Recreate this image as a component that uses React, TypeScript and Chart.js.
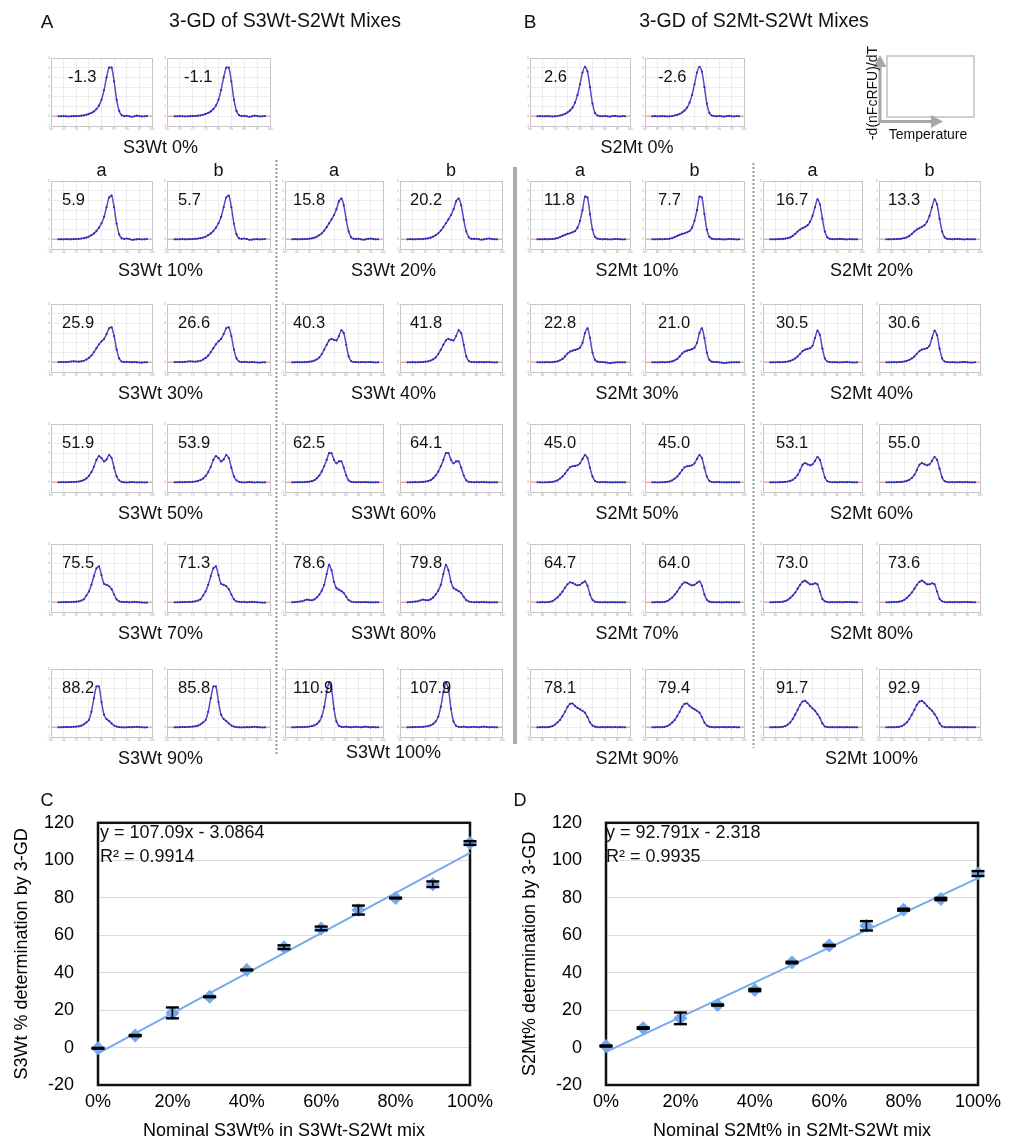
import React, { useEffect, useRef } from 'react';
import { Chart, registerables } from 'chart.js';

Chart.register(...registerables);

const FONT = '"Liberation Sans", Arial, Helvetica, sans-serif';

// ---------------- melt-curve data (-d(nFcRFU)/dT vs temperature) ----------------
const temps = [63, 64, 65, 66, 67, 68, 69, 70, 71, 72, 73, 74, 75, 76, 77, 78, 79, 80, 81, 82, 83, 84, 85, 86, 87, 88, 89, 90, 91, 92, 93, 94, 95, 96, 97, 98];
const tempMin = 60;
const tempMax = 100;

// Panel A: S3Wt-S2Wt mixes (S3Wt 0% .. 100%)
const curveA0 = [0, 0, 0.02, 0, -0.02, 0, 0.01, 0.02, 0.03, 0.06, 0.1, 0.16, 0.24, 0.35, 0.5, 0.75, 1.1, 1.7, 2.7, 4.0, 5.0, 5.0, 3.6, 1.7, 0.55, 0.12, 0.02, 0.05, 0, -0.05, 0, 0.06, 0.03, -0.02, 0, 0.02];
const curveA10 = [0, 0, 0, 0.01, 0, 0, 0.01, 0.03, 0.05, 0.08, 0.12, 0.18, 0.28, 0.42, 0.6, 0.85, 1.2, 1.65, 2.3, 3.3, 4.3, 4.5, 3.3, 1.6, 0.5, 0.1, 0.05, 0.08, 0.03, -0.05, -0.03, 0, 0.02, -0.02, 0, 0.03];
const curveA20 = [0, 0.01, 0, 0, 0.01, 0.02, 0.03, 0.06, 0.1, 0.17, 0.27, 0.42, 0.62, 0.9, 1.25, 1.65, 2.05, 2.5, 3.1, 3.9, 4.2, 3.5, 2.0, 0.8, 0.2, 0.05, 0.04, 0.05, 0, -0.04, 0, 0.05, 0.08, 0.02, 0, 0];
const curveA30 = [0.02, 0.03, 0.02, 0.02, 0.05, 0.08, 0.1, 0.08, 0.06, 0.1, 0.16, 0.28, 0.45, 0.7, 1.05, 1.45, 1.85, 2.15, 2.4, 2.9, 3.5, 3.6, 2.7, 1.3, 0.4, 0.08, 0.02, 0.04, 0.03, 0, 0.02, 0, -0.02, -0.03, 0, 0];
const curveA40 = [0, 0, 0.01, 0, 0, 0.02, 0.03, 0.06, 0.1, 0.18, 0.3, 0.5, 0.85, 1.3, 1.8, 2.25, 2.4, 2.3, 2.25, 2.7, 3.3, 3.0, 1.8, 0.6, 0.12, 0.03, 0.02, 0, 0.01, 0.02, 0, 0.03, 0.02, 0, -0.02, 0];
const curveA50 = [0, 0, 0.01, 0, 0.01, 0.02, 0.03, 0.05, 0.08, 0.14, 0.24, 0.4, 0.65, 1.05, 1.6, 2.3, 2.7, 2.5, 2.15, 2.35, 2.8, 2.5, 1.5, 0.6, 0.2, 0.05, 0, -0.02, 0, 0.02, 0, -0.02, 0, 0, -0.02, 0];
const curveA60 = [0, 0, 0, 0.01, 0, 0.02, 0.04, 0.07, 0.12, 0.22, 0.42, 0.7, 1.1, 1.65, 2.3, 3.0, 3.0, 2.3, 1.95, 2.15, 2.15, 1.5, 0.7, 0.2, 0.05, 0.02, 0, 0.01, 0, 0.02, 0.01, 0, -0.01, 0, 0, 0];
const curveA70 = [0, 0, 0.01, 0.01, 0.02, 0.03, 0.04, 0.06, 0.1, 0.18, 0.3, 0.7, 1.1, 1.8, 2.7, 3.5, 3.7, 2.8, 1.9, 1.8, 1.65, 1.35, 0.8, 0.3, 0.1, 0.05, 0.02, 0.04, 0, 0.02, 0.04, 0.02, 0, -0.02, -0.03, -0.03];
const curveA80 = [0, 0.02, 0.05, 0.08, 0.1, 0.2, 0.28, 0.22, 0.2, 0.3, 0.5, 0.8, 1.2, 1.8, 2.9, 3.85, 3.3, 2.1, 1.45, 1.3, 1.15, 0.95, 0.55, 0.22, 0.08, 0.03, 0, 0.01, 0, 0.02, 0.01, 0, -0.01, 0, 0, 0];
const curveA90 = [0, 0, 0.01, 0.02, 0.02, 0.03, 0.05, 0.07, 0.1, 0.17, 0.3, 0.5, 0.75, 1.6, 3.0, 4.2, 4.2, 2.6, 1.3, 0.85, 0.65, 0.4, 0.18, 0.07, 0.02, 0, -0.02, 0, 0.01, 0, 0.03, 0.05, 0.02, 0, -0.02, 0];
const curveA100 = [0, 0, 0.01, 0.02, 0.02, 0.03, 0.05, 0.08, 0.12, 0.2, 0.35, 0.6, 1.1, 2.1, 3.6, 4.6, 3.9, 1.9, 0.6, 0.15, 0.05, 0.03, 0.06, 0.02, 0, 0.02, 0.05, 0.03, 0, 0.04, 0.06, 0.02, 0, 0.02, 0, 0];
const curvesA = [curveA0, curveA10, curveA20, curveA30, curveA40, curveA50, curveA60, curveA70, curveA80, curveA90, curveA100];

// Panel B: S2Mt-S2Wt mixes (S2Mt 0% .. 100%)
const curveB0 = [0, 0.01, 0, 0, 0.01, 0, -0.02, 0, 0.03, 0.08, 0.15, 0.25, 0.4, 0.6, 0.9, 1.4, 2.2, 3.3, 4.5, 5.1, 4.6, 3.0, 1.3, 0.35, 0.08, 0.02, 0, 0.03, 0, -0.03, 0.02, 0.04, 0, -0.02, 0.02, 0];
const curveB10 = [0, 0, 0, 0.01, 0, 0.02, 0.03, 0.06, 0.12, 0.22, 0.35, 0.45, 0.55, 0.62, 0.72, 0.85, 1.2, 1.9, 3.0, 4.4, 4.3, 2.6, 1.0, 0.25, 0.06, 0.02, 0, 0.02, 0, -0.02, 0, 0.03, 0.02, 0, -0.02, 0];
const curveB20 = [0, 0, 0, 0.01, 0.02, 0.04, 0.07, 0.12, 0.2, 0.35, 0.55, 0.8, 1.0, 1.15, 1.28, 1.45, 1.8, 2.4, 3.3, 4.1, 3.6, 2.1, 0.8, 0.2, 0.05, 0.02, 0, 0.02, 0.04, 0.02, 0, -0.02, 0.02, 0, 0, 0];
const curveB30 = [0, 0, 0, 0, 0.01, 0, 0.02, 0.05, 0.1, 0.2, 0.35, 0.6, 0.9, 1.1, 1.2, 1.27, 1.35, 1.5, 2.0, 3.0, 3.5, 2.5, 1.0, 0.25, 0.06, 0.03, 0.02, 0, -0.03, -0.08, -0.04, -0.02, 0, 0, 0, 0];
const curveB40 = [0, 0, 0, 0.01, 0, 0.02, 0.04, 0.08, 0.15, 0.25, 0.4, 0.6, 0.88, 1.15, 1.3, 1.38, 1.45, 1.7, 2.5, 3.25, 2.8, 1.4, 0.4, 0.08, 0.02, 0, 0.01, 0, -0.02, 0, 0.02, 0.03, 0, -0.02, -0.02, 0];
const curveB50 = [0, 0, -0.02, 0, 0, 0.02, 0.05, 0.1, 0.2, 0.38, 0.6, 0.9, 1.25, 1.55, 1.65, 1.68, 1.75, 1.95, 2.4, 2.8, 2.5, 1.5, 0.6, 0.15, 0.03, 0, 0.02, 0.01, 0, 0, -0.01, 0, 0, 0, 0, 0];
const curveB60 = [0, 0, 0, 0, 0.01, 0.02, 0.04, 0.08, 0.14, 0.25, 0.45, 0.75, 1.25, 1.8, 1.98, 1.85, 1.75, 1.85, 2.2, 2.6, 2.3, 1.4, 0.5, 0.12, 0.03, 0, 0.01, 0, 0.01, 0.02, 0, 0.01, 0.02, 0, 0, 0];
const curveB70 = [0, 0, 0.01, 0, 0.02, 0.05, 0.12, 0.3, 0.5, 0.78, 1.1, 1.5, 1.85, 2.05, 2.0, 1.85, 1.75, 1.8, 2.0, 2.15, 1.7, 0.8, 0.25, 0.06, 0.02, 0, 0, 0.01, -0.01, 0, 0.01, 0, 0, 0, 0, 0];
const curveB80 = [0, 0, 0.01, 0.02, 0.03, 0.06, 0.12, 0.25, 0.45, 0.7, 1.0, 1.4, 1.8, 2.1, 2.22, 2.05, 1.85, 1.85, 1.95, 1.85, 1.1, 0.35, 0.1, 0.03, 0, 0.01, 0, 0.01, 0.02, 0, 0.02, 0.03, 0.02, 0.01, 0, 0];
const curveB90 = [0, 0, 0.01, 0, 0.02, 0.05, 0.12, 0.28, 0.5, 0.75, 1.15, 1.6, 2.1, 2.4, 2.45, 2.2, 2.0, 1.85, 1.7, 1.5, 1.05, 0.5, 0.18, 0.06, 0.02, 0, 0.02, 0, 0.02, 0.01, 0, 0.02, 0, 0.01, 0, 0];
const curveB100 = [0, 0, 0.01, 0, 0.02, 0.05, 0.12, 0.28, 0.5, 0.85, 1.3, 1.8, 2.3, 2.65, 2.72, 2.5, 2.2, 1.95, 1.7, 1.35, 0.95, 0.4, 0.08, 0.02, 0, 0.01, 0, 0, 0.01, 0, 0, 0.01, 0, 0, 0, 0];
const curvesB = [curveB0, curveB10, curveB20, curveB30, curveB40, curveB50, curveB60, curveB70, curveB80, curveB90, curveB100];

const levels = [0, 10, 20, 30, 40, 50, 60, 70, 80, 90, 100];
// 3-GD results written in each panel (replicates a / b)
const s3wtRepA = [-1.3, 5.9, 15.8, 25.9, 40.3, 51.9, 62.5, 75.5, 78.6, 88.2, 110.9];
const s3wtRepB = [-1.1, 5.7, 20.2, 26.6, 41.8, 53.9, 64.1, 71.3, 79.8, 85.8, 107.9];
const s2mtRepA = [2.6, 11.8, 16.7, 22.8, 30.5, 45.0, 53.1, 64.7, 73.0, 78.1, 91.7];
const s2mtRepB = [-2.6, 7.7, 13.3, 21.0, 30.6, 45.0, 55.0, 64.0, 73.6, 79.4, 92.9];

// ---------------- calibration data (C, D) ----------------
const nominalPct = [0, 10, 20, 30, 40, 50, 60, 70, 80, 90, 100];
const s3wtMean = [-0.4, 6.4, 18.5, 27.1, 41.4, 53.6, 63.6, 73.4, 79.8, 87.2, 109.2];
const s3wtErr = [0.2, 0.3, 2.9, 0.2, 0.2, 1.0, 1.0, 2.4, 0.2, 1.5, 1.0];
const s3wtSlope = 107.09;
const s3wtIntercept = -3.0864;
const s3wtR2 = '0.9914';

const s2mtMean = [0.8, 10.4, 15.6, 22.7, 30.7, 45.4, 54.5, 65.0, 73.6, 79.3, 92.9];
const s2mtErr = [0.3, 0.4, 3.1, 0.3, 0.6, 0.4, 0.3, 2.5, 0.5, 0.6, 1.3];
const s2mtSlope = 92.791;
const s2mtIntercept = -2.318;
const s2mtR2 = '0.9935';

// ---------------- layout (styles only) ----------------
const colsA = [{ l: 51, w: 101 }, { l: 167, w: 103 }, { l: 285, w: 98 }, { l: 400, w: 102 }];
const colsB = [{ l: 530, w: 100 }, { l: 645, w: 99 }, { l: 763, w: 99 }, { l: 879, w: 101 }];
const rowTops = [57, 180, 303, 423, 543, 668];
const PANEL_H = 69;
const numOffA = [11, 11, 8, 10];
const numOffB = [14, 13, 13, 9];

const PAD_L = 8, PAD_T = 3, PAD_R = 4, PAD_B = 7;
const EDGE = '#c6c6c6';
const INNER = '#ececec';

type PanelProps = { left: number; top: number; width: number; height: number; curve: number[] };

function MeltPanel({ left, top, width, height, curve }: PanelProps) {
  const ref = useRef<HTMLCanvasElement | null>(null);
  useEffect(() => {
    if (!ref.current) return;
    const pts = temps.map((t, i) => ({ x: t, y: curve[i] }));
    const fitPts = [{ x: tempMin, y: 0 }, ...pts, { x: tempMax, y: 0 }];
    const edgeColor = (lo: number, hi: number) => (c: any) =>
      c.tick && (c.tick.value === lo || c.tick.value === hi) ? EDGE : INNER;
    const chart = new Chart(ref.current, {
      type: 'scatter',
      data: {
        datasets: [
          {
            data: pts, showLine: true, borderColor: '#4747d8', borderWidth: 1.25, tension: 0.25,
            pointRadius: 1.1, pointBackgroundColor: '#2c2cb0', pointBorderWidth: 0, clip: false,
          },
          {
            data: fitPts, showLine: true, borderColor: '#f1a8a8', borderWidth: 1.5, tension: 0.25,
            pointRadius: 0, clip: false,
          },
        ],
      },
      options: {
        responsive: false,
        animation: false,
        events: [],
        layout: { padding: { top: PAD_T, right: PAD_R, left: 0, bottom: 0 } },
        plugins: { legend: { display: false }, tooltip: { enabled: false } },
        scales: {
          x: {
            type: 'linear', min: tempMin, max: tempMax,
            afterFit: (s: any) => { s.height = PAD_B; },
            ticks: { stepSize: 5, font: { size: 3, family: FONT }, color: '#9a9a9a', padding: 1, maxRotation: 0, autoSkip: false },
            grid: { drawTicks: false, color: edgeColor(tempMin, tempMax), lineWidth: 1 },
            border: { color: EDGE },
          },
          y: {
            type: 'linear', min: -1, max: 6,
            afterFit: (s: any) => { s.width = PAD_L; },
            ticks: { stepSize: 1, font: { size: 3, family: FONT }, color: '#9a9a9a', padding: 1, autoSkip: false },
            grid: { drawTicks: false, color: edgeColor(-1, 6), lineWidth: 1 },
            border: { color: EDGE },
          },
        },
      },
    } as any);
    return () => chart.destroy();
  }, [curve]);
  return (
    <canvas
      ref={ref}
      width={width + PAD_L + PAD_R}
      height={height + PAD_T + PAD_B}
      style={{ position: 'absolute', left: left - PAD_L, top: top - PAD_T, display: 'block' }}
    />
  );
}

const framePlugin = {
  id: 'blackFrame',
  beforeDatasetsDraw(chart: any) {
    const { ctx, chartArea } = chart;
    ctx.save();
    ctx.strokeStyle = '#111';
    ctx.lineWidth = 2.5;
    ctx.strokeRect(chartArea.left, chartArea.top, chartArea.right - chartArea.left, chartArea.bottom - chartArea.top);
    ctx.restore();
  },
};

type CalProps = {
  left: number; means: number[]; errs: number[]; slope: number; intercept: number; yTitle: string; xTitle: string;
};

// chart area top = canvas top + (half tick label height + tick padding)
const CAL_TOP = 788, CAL_W = 494, CAL_H = 354;

function CalChart({ left, means, errs, slope, intercept, yTitle, xTitle }: CalProps) {
  const ref = useRef<HTMLCanvasElement | null>(null);
  useEffect(() => {
    if (!ref.current) return;
    const errPts: any[] = [];
    nominalPct.forEach((x, i) => {
      errPts.push({ x, y: means[i] - errs[i] });
      errPts.push({ x, y: means[i] + errs[i] });
      errPts.push({ x, y: null });
    });
    const pts = nominalPct.map((x, i) => ({ x, y: means[i] }));
    const trend = [
      { x: 0, y: intercept },
      { x: 100, y: slope + intercept },
    ];
    const font = { family: FONT, size: 18 };
    const chart = new Chart(ref.current, {
      type: 'scatter',
      data: {
        datasets: [
          {
            data: errPts, showLine: true, spanGaps: false, borderColor: '#000', borderWidth: 1.6,
            pointStyle: 'line', pointRadius: 6.5, pointBorderWidth: 2.4, pointBorderColor: '#000', clip: false,
          },
          {
            data: pts, pointStyle: 'rectRot', pointRadius: 7, pointBackgroundColor: '#71a8ee',
            pointBorderWidth: 0, clip: false,
          },
          {
            data: trend, showLine: true, borderColor: '#74abee', borderWidth: 2, pointRadius: 0, clip: false,
          },
        ],
      },
      options: {
        responsive: false,
        animation: false,
        events: [],
        layout: { padding: { top: 0, right: 35, left: 0, bottom: 0 } },
        plugins: { legend: { display: false }, tooltip: { enabled: false } },
        scales: {
          x: {
            type: 'linear', min: 0, max: 100,
            afterFit: (s: any) => { s.height = 57; },
            ticks: { stepSize: 20, font, color: '#000', padding: 6, maxRotation: 0, callback: (v: any) => `${v}%` },
            grid: { display: false, drawTicks: false },
            border: { display: false },
            title: { display: true, text: xTitle, font, color: '#000', padding: 0 },
          },
          y: {
            type: 'linear', min: -20, max: 120,
            afterFit: (s: any) => { s.width = 87; },
            ticks: { stepSize: 20, font, color: '#000', padding: 24 },
            grid: { drawTicks: false, color: '#dcdcdc', lineWidth: 1 },
            border: { display: false },
            title: { display: true, text: yTitle, font, color: '#000', padding: 0 },
          },
        },
      },
      plugins: [framePlugin],
    } as any);
    return () => chart.destroy();
  }, [left]);
  return (
    <canvas
      ref={ref}
      width={CAL_W}
      height={CAL_H}
      style={{ position: 'absolute', left, top: CAL_TOP, display: 'block' }}
    />
  );
}

type TextProps = { x: number; y: number; text: string; size?: number; align?: 'center' | 'left'; rotate?: boolean };

function Txt({ x, y, text, size = 18, align = 'center', rotate = false }: TextProps) {
  const tf = align === 'center' ? 'translate(-50%,-50%)' : 'translate(0,-50%)';
  return (
    <div
      style={{
        position: 'absolute', left: x, top: y, transform: rotate ? 'translate(-50%,-50%) rotate(-90deg)' : tf,
        fontSize: size, lineHeight: 1, whiteSpace: 'nowrap', color: '#111', fontFamily: FONT,
      }}
    >
      {text}
    </div>
  );
}

function panelGroup(
  group: 'A' | 'B', curves: number[][], repA: number[], repB: number[], name: string,
) {
  const cols = group === 'A' ? colsA : colsB;
  const offs = group === 'A' ? numOffA : numOffB;
  const panels: React.ReactNode[] = [];
  const texts: React.ReactNode[] = [];
  levels.forEach((lv, li) => {
    const row = li === 0 ? 0 : Math.ceil(li / 2);
    const pair = li === 0 ? 0 : li % 2 === 1 ? 0 : 1;
    const c0 = cols[pair * 2];
    const c1 = cols[pair * 2 + 1];
    const top = rowTops[row];
    [c0, c1].forEach((c, k) => {
      panels.push(
        <MeltPanel key={`${group}-${lv}-${k}`} left={c.l} top={top} width={c.w} height={PANEL_H} curve={curves[li]} />,
      );
      const off = group === 'A' && row === 0 ? 17 : offs[pair * 2 + k];
      const val = k === 0 ? repA[li] : repB[li];
      texts.push(
        <Txt key={`${group}-${lv}-${k}-n`} x={c.l + off} y={top + 19} text={val.toFixed(1)} size={16.5} align="left" />,
      );
    });
    const cx = (c0.l + c1.l + c1.w) / 2;
    let ly = top + PANEL_H + 21;
    if (group === 'A' && lv === 100) ly -= 6;
    texts.push(<Txt key={`${group}-${lv}-lab`} x={cx} y={ly} text={`${name} ${lv}%`} size={18} />);
  });
  cols.forEach((c, i) => {
    texts.push(<Txt key={`${group}-h${i}`} x={c.l + c.w / 2} y={170} text={i % 2 === 0 ? 'a' : 'b'} size={18} />);
  });
  return { panels, texts };
}

export default function App() {
  const A = panelGroup('A', curvesA, s3wtRepA, s3wtRepB, 'S3Wt');
  const B = panelGroup('B', curvesB, s2mtRepA, s2mtRepB, 'S2Mt');
  return (
    <div
      style={{
        position: 'absolute', left: 0, top: 0, width: 1014, height: 1142, overflow: 'hidden',
        background: '#fff', fontFamily: FONT,
      }}
    >
      {A.panels}
      {B.panels}

      <CalChart
        left={11} means={s3wtMean} errs={s3wtErr} slope={s3wtSlope} intercept={s3wtIntercept}
        yTitle="S3Wt % determination by 3-GD" xTitle="Nominal S3Wt% in S3Wt-S2Wt mix"
      />
      <CalChart
        left={519} means={s2mtMean} errs={s2mtErr} slope={s2mtSlope} intercept={s2mtIntercept}
        yTitle="S2Mt% determination by 3-GD" xTitle="Nominal S2Mt% in S2Mt-S2Wt mix"
      />

      <svg width={1014} height={1142} style={{ position: 'absolute', left: 0, top: 0, pointerEvents: 'none' }}>
        <line x1={276.5} y1={160} x2={276.5} y2={755} stroke="#9a9a9a" strokeWidth={2} strokeDasharray="2 2" />
        <line x1={753.5} y1={163} x2={753.5} y2={748} stroke="#9a9a9a" strokeWidth={2} strokeDasharray="2 2" />
        <line x1={515} y1={167} x2={515} y2={744} stroke="#ababab" strokeWidth={4} />
        <rect x={887} y={56} width={87} height={61} fill="none" stroke="#cfcfcf" strokeWidth={2} />
        <line x1={880} y1={122} x2={880} y2={64} stroke="#a8a8a8" strokeWidth={3} />
        <polygon points="873.5,67 880,55 886.5,67" fill="#a8a8a8" />
        <line x1={878.5} y1={121.5} x2={933} y2={121.5} stroke="#a8a8a8" strokeWidth={3} />
        <polygon points="931,115 943,121.5 931,128" fill="#a8a8a8" />
      </svg>

      <Txt x={47} y={21} text="A" size={19} />
      <Txt x={285} y={21} text="3-GD of S3Wt-S2Wt Mixes" size={19.5} />
      <Txt x={530} y={21} text="B" size={19} />
      <Txt x={754} y={21} text="3-GD of S2Mt-S2Wt Mixes" size={19.5} />
      <Txt x={871.5} y={93} text="-d(nFcRFU)/dT" size={14} rotate />
      <Txt x={928} y={134} text="Temperature" size={14} />

      {A.texts}
      {B.texts}

      <Txt x={47} y={800} text="C" size={18} />
      <Txt x={520} y={800} text="D" size={18} />
      <Txt x={100} y={832} text={`y = ${s3wtSlope}x - ${Math.abs(s3wtIntercept)}`} size={18} align="left" />
      <Txt x={100} y={856} text={`R² = ${s3wtR2}`} size={18} align="left" />
      <Txt x={606} y={832} text={`y = ${s2mtSlope}x - ${Math.abs(s2mtIntercept)}`} size={18} align="left" />
      <Txt x={606} y={856} text={`R² = ${s2mtR2}`} size={18} align="left" />
    </div>
  );
}
